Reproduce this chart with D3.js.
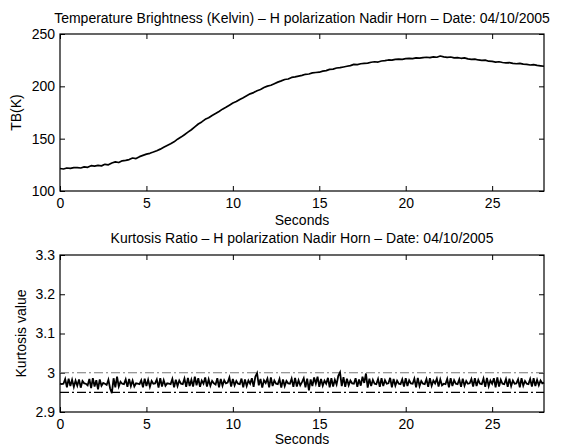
<!DOCTYPE html>
<html>
<head>
<meta charset="utf-8">
<script src="https://cdn.jsdelivr.net/npm/d3@7/dist/d3.min.js"></script>
<style>
html,body{margin:0;padding:0;background:#fff;}
svg{display:block;}
text{font-family:"Liberation Sans",Arial,Helvetica,sans-serif;fill:#000;}
</style>
</head>
<body>
<svg id="chart" width="570" height="446"></svg>
<script>
// ---------- DATA ----------
const tbTitle = "Temperature Brightness (Kelvin) \u2013 H polarization Nadir Horn \u2013 Date: 04/10/2005";
const kurtTitle = "Kurtosis Ratio \u2013 H polarization Nadir Horn \u2013 Date: 04/10/2005";
const xTicks = [0, 5, 10, 15, 20, 25];
const tbTicks = [100, 150, 200, 250];
const kurtTicks = [2.9, 3.0, 3.1, 3.2, 3.3];
const kurtTickLabels = ["2.9", "3", "3.1", "3.2", "3.3"];
const tbStep = 0.2;     // seconds between TB samples
const kurtStep = 0.1;   // seconds between kurtosis samples
const kurtUpper = 3.0;
const kurtLower = 2.95;

const tbValues = [
121.5,121.0,122.0,121.6,122.3,122.4,122.0,123.0,122.6,124.2,
123.8,124.5,124.0,125.5,125.0,126.8,127.8,127.2,128.8,129.2,
130.0,131.5,131.0,132.8,134.0,135.2,136.0,137.2,138.5,140.0,
141.8,143.5,145.2,147.0,149.5,151.5,153.8,156.2,158.5,161.2,
164.0,166.0,168.5,170.0,172.2,174.0,176.0,178.2,180.0,182.0,
184.0,185.5,187.5,189.2,191.0,192.8,194.0,195.8,197.0,198.8,
200.2,201.0,202.5,204.0,205.2,206.5,207.0,208.5,209.0,209.8,
210.5,211.5,211.8,212.8,213.2,213.5,214.5,215.0,216.2,216.5,
217.5,217.8,218.5,219.2,219.8,221.0,220.8,221.6,222.0,222.2,
223.0,223.5,223.2,224.2,224.5,225.2,225.0,225.8,226.0,225.8,
226.5,226.8,226.4,227.2,227.0,227.5,227.8,227.4,228.2,227.8,
229.0,228.2,227.6,228.0,227.2,227.4,226.8,227.2,226.2,225.8,
226.0,225.2,224.8,225.0,224.0,223.8,223.2,223.5,222.8,222.4,
222.6,222.0,221.6,222.0,221.2,221.0,220.4,220.8,220.0,219.6,
219.2
];

const kurtValues = [
2.972,2.971,2.972,2.984,2.963,2.985,2.966,2.982,2.964,2.980,
2.967,2.983,2.962,2.979,2.973,2.972,2.968,2.984,2.961,2.986,
2.965,2.981,2.958,2.983,2.967,2.974,2.972,2.969,2.982,2.960,
2.948,2.986,2.963,2.990,2.965,2.977,2.972,2.971,2.983,2.964,
2.984,2.966,2.980,2.965,2.973,2.972,2.971,2.981,2.963,2.985,
2.966,2.982,2.964,2.979,2.972,2.973,2.983,2.962,2.986,2.965,
2.981,2.967,2.973,2.972,2.971,2.984,2.963,2.982,2.966,2.980,
2.972,2.971,2.985,2.964,2.987,2.966,2.982,2.965,2.990,2.968,
2.986,2.964,2.980,2.972,2.988,2.965,2.983,2.967,2.979,2.973,
2.970,2.986,2.963,2.984,2.967,2.981,2.973,2.975,2.988,2.965,
2.984,2.968,2.979,2.972,2.971,2.985,2.963,2.983,2.966,2.980,
2.972,2.986,2.964,2.990,2.999,2.968,2.984,2.962,2.981,2.974,
2.985,2.963,2.988,2.966,2.980,2.972,2.971,2.984,2.962,2.983,
2.966,2.979,2.973,2.972,2.985,2.964,2.987,2.965,2.981,2.968,
2.976,2.986,2.963,2.985,2.955,2.983,2.966,2.988,2.972,2.990,
2.964,2.984,2.967,2.980,2.972,2.987,2.963,2.986,2.965,2.982,
2.970,2.992,3.001,2.966,2.989,2.964,2.985,2.968,2.980,2.973,
2.972,2.986,2.964,2.983,2.967,2.990,2.974,2.998,2.962,2.985,
2.966,2.982,2.972,2.971,2.984,2.964,2.986,2.966,2.981,2.972,
2.973,2.987,2.963,2.984,2.967,2.980,2.972,2.971,2.983,2.965,
2.986,2.966,2.981,2.973,2.972,2.985,2.963,2.987,2.966,2.979,
2.972,2.971,2.984,2.964,2.986,2.967,2.980,2.973,2.985,2.965,
2.983,2.968,2.972,2.971,2.984,2.963,2.986,2.966,2.981,2.972,
2.971,2.983,2.964,2.985,2.967,2.979,2.972,2.973,2.984,2.965,
2.986,2.966,2.982,2.972,2.971,2.985,2.964,2.987,2.966,2.980,
2.972,2.986,2.963,2.988,2.965,2.982,2.972,2.971,2.984,2.964,
2.985,2.966,2.980,2.972,2.973,2.983,2.963,2.986,2.967,2.979,
2.972,2.971,2.984,2.965,2.986,2.966,2.982,2.968,2.980,2.973,
2.975
];

// ---------- LAYOUT ----------
const svg = d3.select("#chart");
const left = 60, right = 544;
const top1 = 34, bot1 = 191;
const top2 = 255, bot2 = 412;
const tickLen = 5;
const fs = 14;

const x = d3.scaleLinear().domain([0, 28]).range([left, right]);
const y1 = d3.scaleLinear().domain([100, 250]).range([bot1, top1]);
const y2 = d3.scaleLinear().domain([2.9, 3.3]).range([bot2, top2]);

function panel(yScale, yTicks, yLabels, top, bot, title, yLabel, yLabelX, xLabelY, titleOff) {
  const g = svg.append("g");
  const xb = d3.axisBottom(x).tickValues(xTicks).tickSizeInner(-tickLen).tickSizeOuter(0).tickPadding(7).tickFormat(d3.format("d"));
  g.append("g").attr("transform", `translate(0,${bot})`).call(xb);
  const xt = d3.axisTop(x).tickValues(xTicks).tickSizeInner(-tickLen).tickSizeOuter(0).tickFormat("");
  g.append("g").attr("transform", `translate(0,${top})`).call(xt);
  const yl = d3.axisLeft(yScale).tickValues(yTicks).tickSizeInner(-tickLen).tickSizeOuter(0).tickPadding(5)
    .tickFormat((d, i) => yLabels[i]);
  g.append("g").attr("transform", `translate(${left},0)`).call(yl);
  const yr = d3.axisRight(yScale).tickValues(yTicks).tickSizeInner(-tickLen).tickSizeOuter(0).tickFormat("");
  g.append("g").attr("transform", `translate(${right},0)`).call(yr);
  g.selectAll(".domain").remove();
  g.selectAll(".tick line").attr("stroke", "#000").attr("stroke-width", 1);
  g.selectAll(".tick text").attr("font-size", fs).attr("font-family", "Liberation Sans, Arial, sans-serif").attr("fill", "#000");
  g.append("rect").attr("x", left).attr("y", top).attr("width", right - left).attr("height", bot - top)
    .attr("fill", "none").attr("stroke", "#000").attr("stroke-width", 1.2);
  g.append("text").attr("x", (left + right) / 2).attr("y", top - titleOff).attr("text-anchor", "middle")
    .attr("font-size", fs).text(title);
  g.append("text").attr("x", (left + right) / 2).attr("y", xLabelY).attr("text-anchor", "middle")
    .attr("font-size", fs).text("Seconds");
  g.append("text").attr("transform", `translate(${yLabelX},${(top + bot) / 2}) rotate(-90)`)
    .attr("text-anchor", "middle").attr("dominant-baseline", "central").attr("font-size", fs).text(yLabel);
  return g;
}

panel(y1, tbTicks, tbTicks.map(String), top1, bot1, tbTitle, "TB(K)", 16, 225, 11);
panel(y2, kurtTicks, kurtTickLabels, top2, bot2, kurtTitle, "Kurtosis value", 21, 444, 12);

// TB line
const tbLine = d3.line().x((d, i) => x(i * tbStep)).y(d => y1(d));
svg.append("path").datum(tbValues).attr("d", tbLine).attr("fill", "none")
  .attr("stroke", "#000").attr("stroke-width", 1.7).attr("stroke-linejoin", "round");

// threshold lines
svg.append("line").attr("x1", x(0)).attr("x2", x(28)).attr("y1", y2(kurtUpper)).attr("y2", y2(kurtUpper))
  .attr("stroke", "#777").attr("stroke-width", 1.2).attr("stroke-dasharray", "9,3,2,3");
svg.append("line").attr("x1", x(0)).attr("x2", x(28)).attr("y1", y2(kurtLower)).attr("y2", y2(kurtLower))
  .attr("stroke", "#000").attr("stroke-width", 1.2).attr("stroke-dasharray", "9,3,2,3");

// kurtosis line
const kLine = d3.line().x((d, i) => x(i * kurtStep)).y(d => y2(d));
svg.append("path").datum(kurtValues).attr("d", kLine).attr("fill", "none")
  .attr("stroke", "#000").attr("stroke-width", 1.8).attr("stroke-linejoin", "miter");
</script>
</body>
</html>
